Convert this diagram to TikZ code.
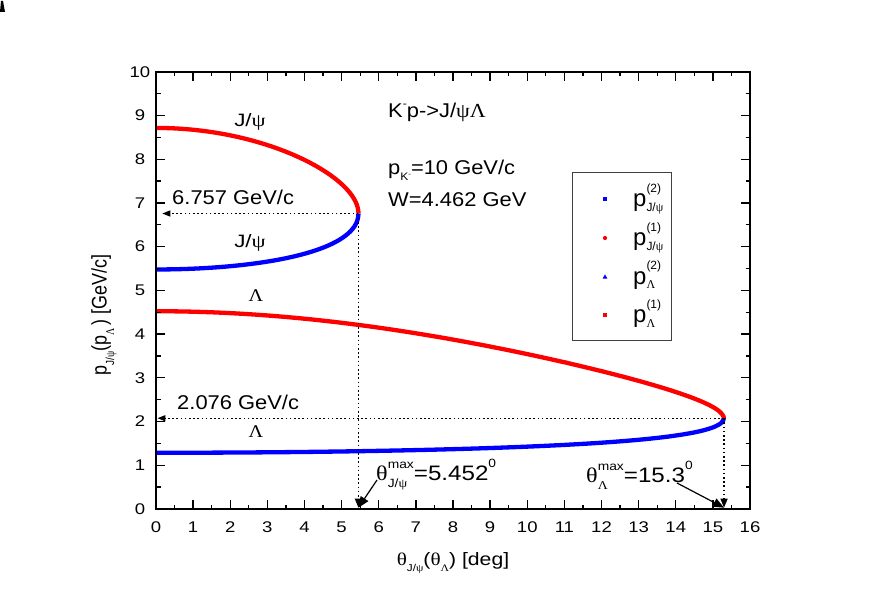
\documentclass[tikz,border=0pt]{standalone}
\usepackage{fontspec}
\setmainfont{Liberation Sans}
\newfontfamily\gr{Liberation Serif}
\usetikzlibrary{arrows.meta}
\newdimen\sswidth
\newcommand\SupSub[5]{%
  \setbox0\hbox{\fontsize{#1}{#1}\selectfont #4}%
  \setbox2\hbox{\fontsize{#1}{#1}\selectfont #5}%
  \ifdim\wd0>\wd2 \sswidth=\wd0 \else \sswidth=\wd2 \fi
  \rlap{\raise#2\box0}\rlap{\lower#3\box2}\hskip\sswidth}
\begin{document}
\begin{tikzpicture}[x=1bp,y=-1bp,
  ticklbl/.style={inner sep=0pt, xscale=1.2, font=\fontsize{15.5}{18}\selectfont},
  ann/.style={inner sep=0pt, anchor=base west, xscale=1.1, font=\fontsize{20}{24}\selectfont},
  curvelbl/.style={inner sep=0pt, anchor=base, xscale=1.25, font=\fontsize{18}{21}\selectfont},
  axlbl/.style={inner sep=0pt, xscale=1.18, font=\fontsize{18}{22}\selectfont},
  leglbl/.style={inner sep=0pt, anchor=base west, font=\fontsize{24}{28}\selectfont},
  tickln/.style={line width=1.3bp},
  dots/.style={line width=1.4bp, dash pattern=on 1.6bp off 2.6bp},
  tipS/.style={-{Triangle[length=8bp,width=6bp]}},
  tipV/.style={-{Triangle[length=9bp,width=7bp]}},
  tipL/.style={-{Triangle[length=11bp,width=9bp]}},
  curve/.style={line width=4.3bp},
]
\useasboundingbox (0,0) rectangle (872,611);
\fill[white] (0,0) rectangle (872,611);
\fill[black] (0,12) -- (5,12) -- (3,1) -- (1,1) -- cycle;

\begin{scope}[shift={(156,509)}, x=37.125bp, y=43.73bp]
  % curves (parametrised by the CM angle t)
  \draw[red, curve] plot[domain=0:103.18, samples=140, variable=\t]
    ({atan2(0.659484*sin(\t), 1.618348*cos(\t)+7.09575)},
     {sqrt((1.618348*cos(\t)+7.09575)^2+(0.659484*sin(\t))^2)});
  \draw[blue, curve] plot[domain=103.18:180, samples=120, variable=\t]
    ({atan2(0.659484*sin(\t), 1.618348*cos(\t)+7.09575)},
     {sqrt((1.618348*cos(\t)+7.09575)^2+(0.659484*sin(\t))^2)});
  \draw[red, curve] plot[domain=0:123.87, samples=160, variable=\t]
    ({atan2(0.659484*sin(\t), 1.618348*cos(\t)+2.904286)},
     {sqrt((1.618348*cos(\t)+2.904286)^2+(0.659484*sin(\t))^2)});
  \draw[blue, curve] plot[domain=123.87:180, samples=120, variable=\t]
    ({atan2(0.659484*sin(\t), 1.618348*cos(\t)+2.904286)},
     {sqrt((1.618348*cos(\t)+2.904286)^2+(0.659484*sin(\t))^2)});

  % key points
  \coordinate (jmax) at (5.452,6.757);
  \coordinate (lmax) at (15.3,2.076);
  \coordinate (jaxis) at (5.452,0.03);
  \coordinate (laxis) at (15.3,0.03);
  \coordinate (jyax) at (0.17,6.757);
  \coordinate (lyax) at (0.04,2.076);

  % dotted guides
  \draw[dots, tipS] (jmax) -- (jyax);
  \draw[dots, tipV] (jmax) -- (jaxis);
  \draw[dots, tipS] (lmax) -- (lyax);
  \draw[dots, tipV] (lmax) -- (laxis);

  % frame and ticks
  \draw[line width=1.8bp] (0,0) rectangle (16,10);
  \foreach \i in {0,...,16} {
    \draw[tickln] (\i,0) -- ++(0,9bp);
    \draw[tickln] (\i,10) -- ++(0,-9bp);
  }
  \foreach \i in {0.5,1.5,...,15.5} {
    \draw[tickln] (\i,0) -- ++(0,4.5bp);
    \draw[tickln] (\i,10) -- ++(0,-4.5bp);
  }
  \foreach \j in {0,...,10} {
    \draw[tickln] (0,\j) -- ++(9bp,0);
    \draw[tickln] (16,\j) -- ++(-9bp,0);
  }
  \foreach \j in {0.5,1.5,...,9.5} {
    \draw[tickln] (0,\j) -- ++(4.5bp,0);
    \draw[tickln] (16,\j) -- ++(-4.5bp,0);
  }
\end{scope}

% tick labels
\foreach \i in {0,...,16} \node[ticklbl] (xl\i) at ({156+37.125*\i},527.5) {\i};
\foreach \j in {0,...,10} \node[ticklbl] (yl\j) at (140,{509-43.73*\j}) {\j};

% axis titles
\node[axlbl] (xtitle) at (453,563)
  {{\gr θ}\SupSub{10}{0em}{0.35em}{}{J/{\gr ψ}}({\gr θ}\SupSub{10}{0em}{0.35em}{}{\gr Λ}) [deg]};
\node[axlbl, rotate=90] (ytitle) at (104,315)
  {p\SupSub{10}{0em}{0.35em}{}{J/{\gr ψ}}(p\SupSub{10}{0em}{0.35em}{}{\gr Λ}\,) [GeV/c]};

% curve labels
\node[curvelbl] (jup) at (250,127) {J/{\gr ψ}};
\node[curvelbl] (jlo) at (250,248) {J/{\gr ψ}};
\node[curvelbl, xscale=0.9] (lup) at (256,301) {{\gr Λ}};
\node[curvelbl, xscale=0.9] (llo) at (256,437) {{\gr Λ}};

% annotations
\node[ann] (v1) at (172,205) {6.757 GeV/c};
\node[ann] (v2) at (177,409) {2.076 GeV/c};
\node[ann] (reac) at (388,118) {K\SupSub{11}{0.55em}{0em}{-}{}p->J/{\gr ψΛ}};
\node[ann] (pk) at (388,175) {p\SupSub{11}{0em}{0.3em}{}{K\raise0.45em\hbox{\fontsize{7}{8}\selectfont -}}=10 GeV/c};
\node[ann] (w) at (388,207) {W=4.462 GeV};

\node[ann, font=\fontsize{21}{24}\selectfont, xscale=1.05] (tj) at (376,480)
  {{\gr θ}\SupSub{12}{0.55em}{0.35em}{max}{J/{\gr ψ}}=5.452\SupSub{12}{0.6em}{0em}{0}{}};
\node[ann, font=\fontsize{21}{24}\selectfont, xscale=1.05] (tl) at (586,482)
  {{\gr θ}\SupSub{12}{0.55em}{0.35em}{max}{\gr Λ}=15.3\SupSub{12}{0.6em}{0em}{0}{}};

\coordinate (tjs) at (377,480);
\coordinate (tls) at (677,483);
\draw[line width=1.2bp, tipL] (tjs) -- (jaxis);
\draw[line width=1.2bp, tipL] (tls) -- (laxis);

% legend
\node[draw=black!75, line width=0.8bp, minimum width=99bp, minimum height=167.3bp, inner sep=0pt] (legend) at (622.2,256.35) {};
\node[fill=blue, minimum size=4bp, inner sep=0pt] (m1) at (605,199.3) {};
\node[fill=red, circle, minimum size=4.2bp, inner sep=0pt] (m2) at (605,238) {};
\node[inner sep=0pt, minimum size=0pt] (m3) at (605,276.7) {};
\fill[blue] (602.6,278.6) -- (607.4,278.6) -- (605,274.4) -- cycle;
\node[fill=red, minimum size=4bp, inner sep=0pt] (m4) at (605,315) {};

\node[leglbl] (l1) at (633,206.8) {p\SupSub{12}{0.6em}{0.2em}{(2)}{J/{\gr ψ}}};
\node[leglbl] (l2) at (633,245.5) {p\SupSub{12}{0.6em}{0.2em}{(1)}{J/{\gr ψ}}};
\node[leglbl] (l3) at (633,284.2) {p\SupSub{12}{0.6em}{0.2em}{(2)}{\gr Λ}};
\node[leglbl] (l4) at (633,322.9) {p\SupSub{12}{0.6em}{0.2em}{(1)}{\gr Λ}};
\end{tikzpicture}
\end{document}
